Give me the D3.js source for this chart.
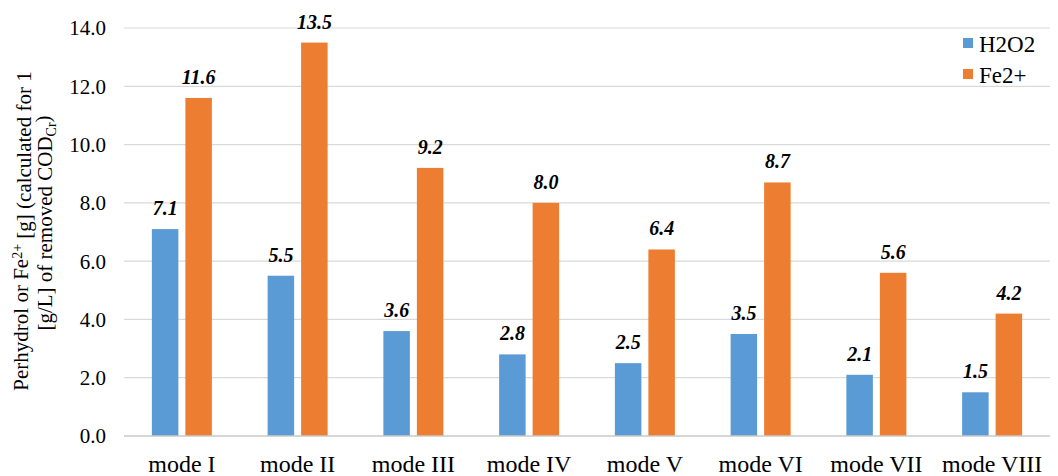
<!DOCTYPE html>
<html>
<head>
<meta charset="utf-8">
<script src="https://cdn.jsdelivr.net/npm/d3@7"></script>
<style>
  body { margin: 0; background: #fff; }
  svg { display: block; }
  text { font-family: "Liberation Serif", "Times New Roman", serif; fill: #000; }
</style>
</head>
<body>
<svg id="chart" width="1058" height="476"></svg>
<script>
const categories = ["mode I", "mode II", "mode III", "mode IV", "mode V", "mode VI", "mode VII", "mode VIII"];
const seriesNames = ["H2O2", "Fe2+"];
const h2o2Values = [7.1, 5.5, 3.6, 2.8, 2.5, 3.5, 2.1, 1.5];
const fe2Values = [11.6, 13.5, 9.2, 8.0, 6.4, 8.7, 5.6, 4.2];
const yTicks = [0, 2, 4, 6, 8, 10, 12, 14];
const colors = ["#5b9bd5", "#ed7d31"];

const SERIF = '"Liberation Serif", "Times New Roman", serif';
const svg = d3.select("#chart");
const margin = { left: 124, right: 8, top: 28, bottom: 40 };
const W = 1058, H = 476;

const x = d3.scaleBand().domain(categories).range([margin.left, W - margin.right]);
const y = d3.scaleLinear().domain([0, 14]).range([H - margin.bottom, margin.top]);

const barW = 26.5, gap = 7;
const sub = d3.scaleOrdinal().domain(seriesNames)
  .range([-(barW + gap / 2) , gap / 2]);

// gridlines
svg.append("g")
  .selectAll("line").data(yTicks.filter(d => d > 0)).join("line")
  .attr("x1", margin.left).attr("x2", W - margin.right)
  .attr("y1", d => y(d)).attr("y2", d => y(d))
  .attr("stroke", "#d9d9d9").attr("stroke-width", 1.2);

// y axis labels
const yAxis = d3.axisLeft(y).tickValues(yTicks).tickFormat(d3.format(".1f")).tickSize(0).tickPadding(18);
const gy = svg.append("g").attr("transform", `translate(${margin.left},0)`).call(yAxis)
  .attr("font-family", SERIF).attr("font-size", 21);
gy.select(".domain").remove();
gy.selectAll("text").attr("font-family", SERIF).attr("font-size", 21).attr("dy", "0.33em");

// bars
const data = [];
categories.forEach((c, i) => {
  data.push({ cat: c, s: seriesNames[0], v: h2o2Values[i], col: colors[0] });
  data.push({ cat: c, s: seriesNames[1], v: fe2Values[i], col: colors[1] });
});

svg.append("g").selectAll("rect").data(data).join("rect")
  .attr("x", d => x(d.cat) + x.bandwidth() / 2 + sub(d.s))
  .attr("width", barW)
  .attr("y", d => y(d.v))
  .attr("height", d => y(0) - y(d.v))
  .attr("fill", d => d.col);

// x axis line
svg.append("line")
  .attr("x1", margin.left).attr("x2", W - margin.right)
  .attr("y1", y(0)).attr("y2", y(0))
  .attr("stroke", "#c8c8c8").attr("stroke-width", 1.5);

// x axis labels
const xAxis = d3.axisBottom(x).tickSize(0).tickPadding(0);
const gx = svg.append("g").attr("transform", `translate(0,${y(0)})`).call(xAxis)
  .attr("font-family", SERIF).attr("font-size", 24);
gx.select(".domain").remove();
gx.selectAll("text").attr("font-family", SERIF).attr("font-size", 24)
  .attr("dy", null).attr("y", 36);

// data labels
svg.append("g").selectAll("text").data(data).join("text")
  .attr("x", d => x(d.cat) + x.bandwidth() / 2 + sub(d.s) + barW / 2)
  .attr("y", d => y(d.v) - 14)
  .attr("text-anchor", "middle")
  .style("font-size", "20px").style("font-weight", "bold").style("font-style", "italic")
  .text(d => d3.format(".1f")(d.v));

// y axis title
const yt = svg.append("text")
  .attr("transform", "translate(28,231) rotate(-90)")
  .attr("text-anchor", "middle")
  .style("font-size", "21px");
yt.append("tspan").attr("x", 0).attr("dy", 0).text("Perhydrol or Fe");
yt.append("tspan").attr("dy", "-0.45em").style("font-size", "14px").text("2+");
yt.append("tspan").attr("dy", "0.45em").text(" [g] (calculated for 1");
const yt2 = svg.append("text")
  .attr("transform", "translate(52,223) rotate(-90)")
  .attr("text-anchor", "middle")
  .style("font-size", "21px");
yt2.append("tspan").text("[g/L] of removed COD");
yt2.append("tspan").attr("dy", "0.3em").style("font-size", "14px").text("Cr");
yt2.append("tspan").attr("dy", "-0.3em").text(")");

// legend
const lg = svg.append("g");
seriesNames.forEach((s, i) => {
  const yy = 38 + i * 31;
  lg.append("rect").attr("x", 963).attr("y", yy).attr("width", 10).attr("height", 10).attr("fill", colors[i]);
  lg.append("text").attr("x", 979).attr("y", yy + 14).style("font-size", "23px").text(s);
});
</script>
</body>
</html>
